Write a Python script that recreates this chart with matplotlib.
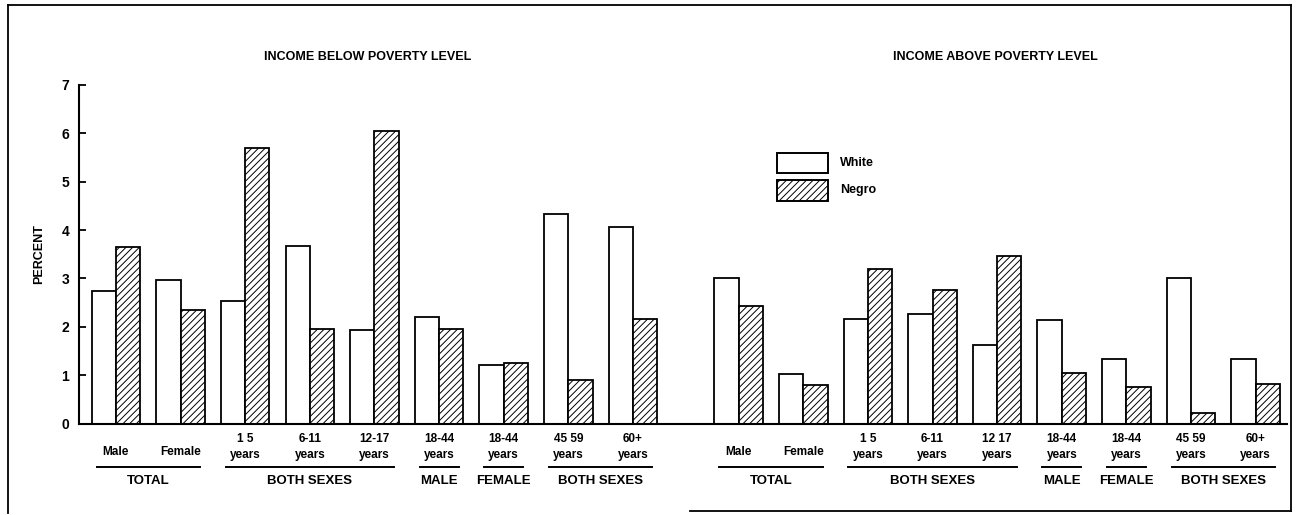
import matplotlib
matplotlib.use("Agg")
import matplotlib.pyplot as plt
from matplotlib.patches import Rectangle
from matplotlib.lines import Line2D
import numpy as np

plt.rcParams['font.family'] = ['Liberation Sans', 'DejaVu Sans']
plt.rcParams['hatch.linewidth'] = 0.7

# ---------------- data ----------------
categories_left = ["Male", "Female", "1 5\nyears", "6-11\nyears", "12-17\nyears",
                   "18-44\nyears", "18-44\nyears", "45 59\nyears", "60+\nyears"]
categories_right = ["Male", "Female", "1 5\nyears", "6-11\nyears", "12 17\nyears",
                    "18-44\nyears", "18-44\nyears", "45 59\nyears", "60+\nyears"]
group_labels = ["TOTAL", "BOTH SEXES", "MALE", "FEMALE", "BOTH SEXES"]
group_first = [0, 2, 5, 6, 7]
group_last = [1, 4, 5, 6, 8]
below_white = [2.75, 2.96, 2.53, 3.67, 1.93, 2.20, 1.21, 4.33, 4.07]
below_negro = [3.66, 2.34, 5.70, 1.95, 6.04, 1.95, 1.25, 0.90, 2.16]
above_white = [3.00, 1.02, 2.17, 2.27, 1.63, 2.13, 1.33, 3.00, 1.33]
above_negro = [2.43, 0.80, 3.19, 2.76, 3.46, 1.04, 0.76, 0.22, 0.81]
panel_titles = ["INCOME BELOW POVERTY LEVEL", "INCOME ABOVE POVERTY LEVEL"]
series_names = ["White", "Negro"]
y_ticks = [0, 1, 2, 3, 4, 5, 6, 7]
y_label = "PERCENT"

# ---------------- layout ----------------
W, H = 1299, 515
fig = plt.figure(figsize=(W / 100, H / 100), dpi=100)
ax_left_px, ax_right_px = 79, 1287
ax_bottom_px, ax_top_px = 423.5, 85
ax = fig.add_axes([ax_left_px / W, 1 - ax_bottom_px / H,
                   (ax_right_px - ax_left_px) / W, (ax_bottom_px - ax_top_px) / H])

n = len(categories_left)
gap = 1.633
pos_left = np.arange(n)
pos_right = np.arange(n) + (n - 1) + gap
bw = 0.376
lw = 1.3
HATCH = '/////'

for pos, wv, nv in [(pos_left, below_white, below_negro),
                    (pos_right, above_white, above_negro)]:
    ax.bar(pos - bw / 2, wv, width=bw, facecolor='white', edgecolor='black', linewidth=lw)
    ax.bar(pos + bw / 2, nv, width=bw, facecolor='white', edgecolor='black',
           linewidth=lw, hatch=HATCH)

ax.set_xlim(-0.571, 18.117)
ax.set_ylim(0, 7)
ax.set_yticks(y_ticks)
ax.set_yticklabels([str(t) for t in y_ticks], fontsize=10, fontweight='bold')
ax.tick_params(axis='y', direction='in', length=5, width=1.3, pad=7)
ax.set_xticks([])
for s in ['top', 'right']:
    ax.spines[s].set_visible(False)
ax.spines['left'].set_linewidth(1.5)
ax.spines['bottom'].set_linewidth(1.5)
ax.set_ylabel(y_label, fontsize=9, fontweight='bold', labelpad=12)

# ---------------- category labels ----------------
def ay(px):
    return (ax_bottom_px - px) / (ax_bottom_px - ax_top_px)

tr = ax.get_xaxis_transform()
for pos, cats in [(pos_left, categories_left), (pos_right, categories_right)]:
    for p, c in zip(pos, cats):
        lines = c.split('\n')
        if len(lines) == 1:
            ax.text(p, ay(452), lines[0], transform=tr, ha='center', va='center',
                    fontsize=8.5, fontweight='bold', clip_on=False)
        else:
            ax.text(p, ay(439), lines[0], transform=tr, ha='center', va='center',
                    fontsize=8.5, fontweight='bold', clip_on=False)
            ax.text(p, ay(455), lines[1], transform=tr, ha='center', va='center',
                    fontsize=8.5, fontweight='bold', clip_on=False)
    for g, a, b in zip(group_labels, group_first, group_last):
        x0, x1 = pos[a] - 0.3, pos[b] + 0.3
        ax.add_line(Line2D([x0, x1], [ay(466.5), ay(466.5)], transform=tr,
                           color='black', linewidth=1.4, clip_on=False))
        ax.text((x0 + x1) / 2, ay(481), g, transform=tr, ha='center', va='center',
                fontsize=9.5, fontweight='bold', clip_on=False)

# ---------------- panel titles ----------------
fig.text(368 / W, 1 - 57 / H, panel_titles[0], ha='center', va='center',
         fontsize=9, fontweight='bold')
fig.text(995 / W, 1 - 57 / H, panel_titles[1], ha='center', va='center',
         fontsize=9, fontweight='bold')

# ---------------- legend ----------------
bx0, bx1 = 777, 828
for i, (name, hatch) in enumerate(zip(series_names, [None, HATCH])):
    y0 = 152.7 + i * 27.3
    r = Rectangle((bx0 / W, 1 - (y0 + 20.6) / H), (bx1 - bx0) / W, 20.6 / H,
                  transform=fig.transFigure, facecolor='white', edgecolor='black',
                  linewidth=1.4, hatch=hatch)
    fig.patches.append(r)
    fig.text(840 / W, 1 - (y0 + 10.3) / H, name, ha='left', va='center',
             fontsize=9, fontweight='bold')

# ---------------- outer frame ----------------
def fl(xs, ys):
    fig.add_artist(Line2D([x / W for x in xs], [1 - y / H for y in ys],
                          transform=fig.transFigure, color='black', linewidth=1.3))

fl([8, 8], [5, 513])
fl([8, 1291], [5, 5])
fl([1291, 1291], [5, 511])
fl([690, 1291], [511, 511])

fig.savefig("out.png", dpi=100)
